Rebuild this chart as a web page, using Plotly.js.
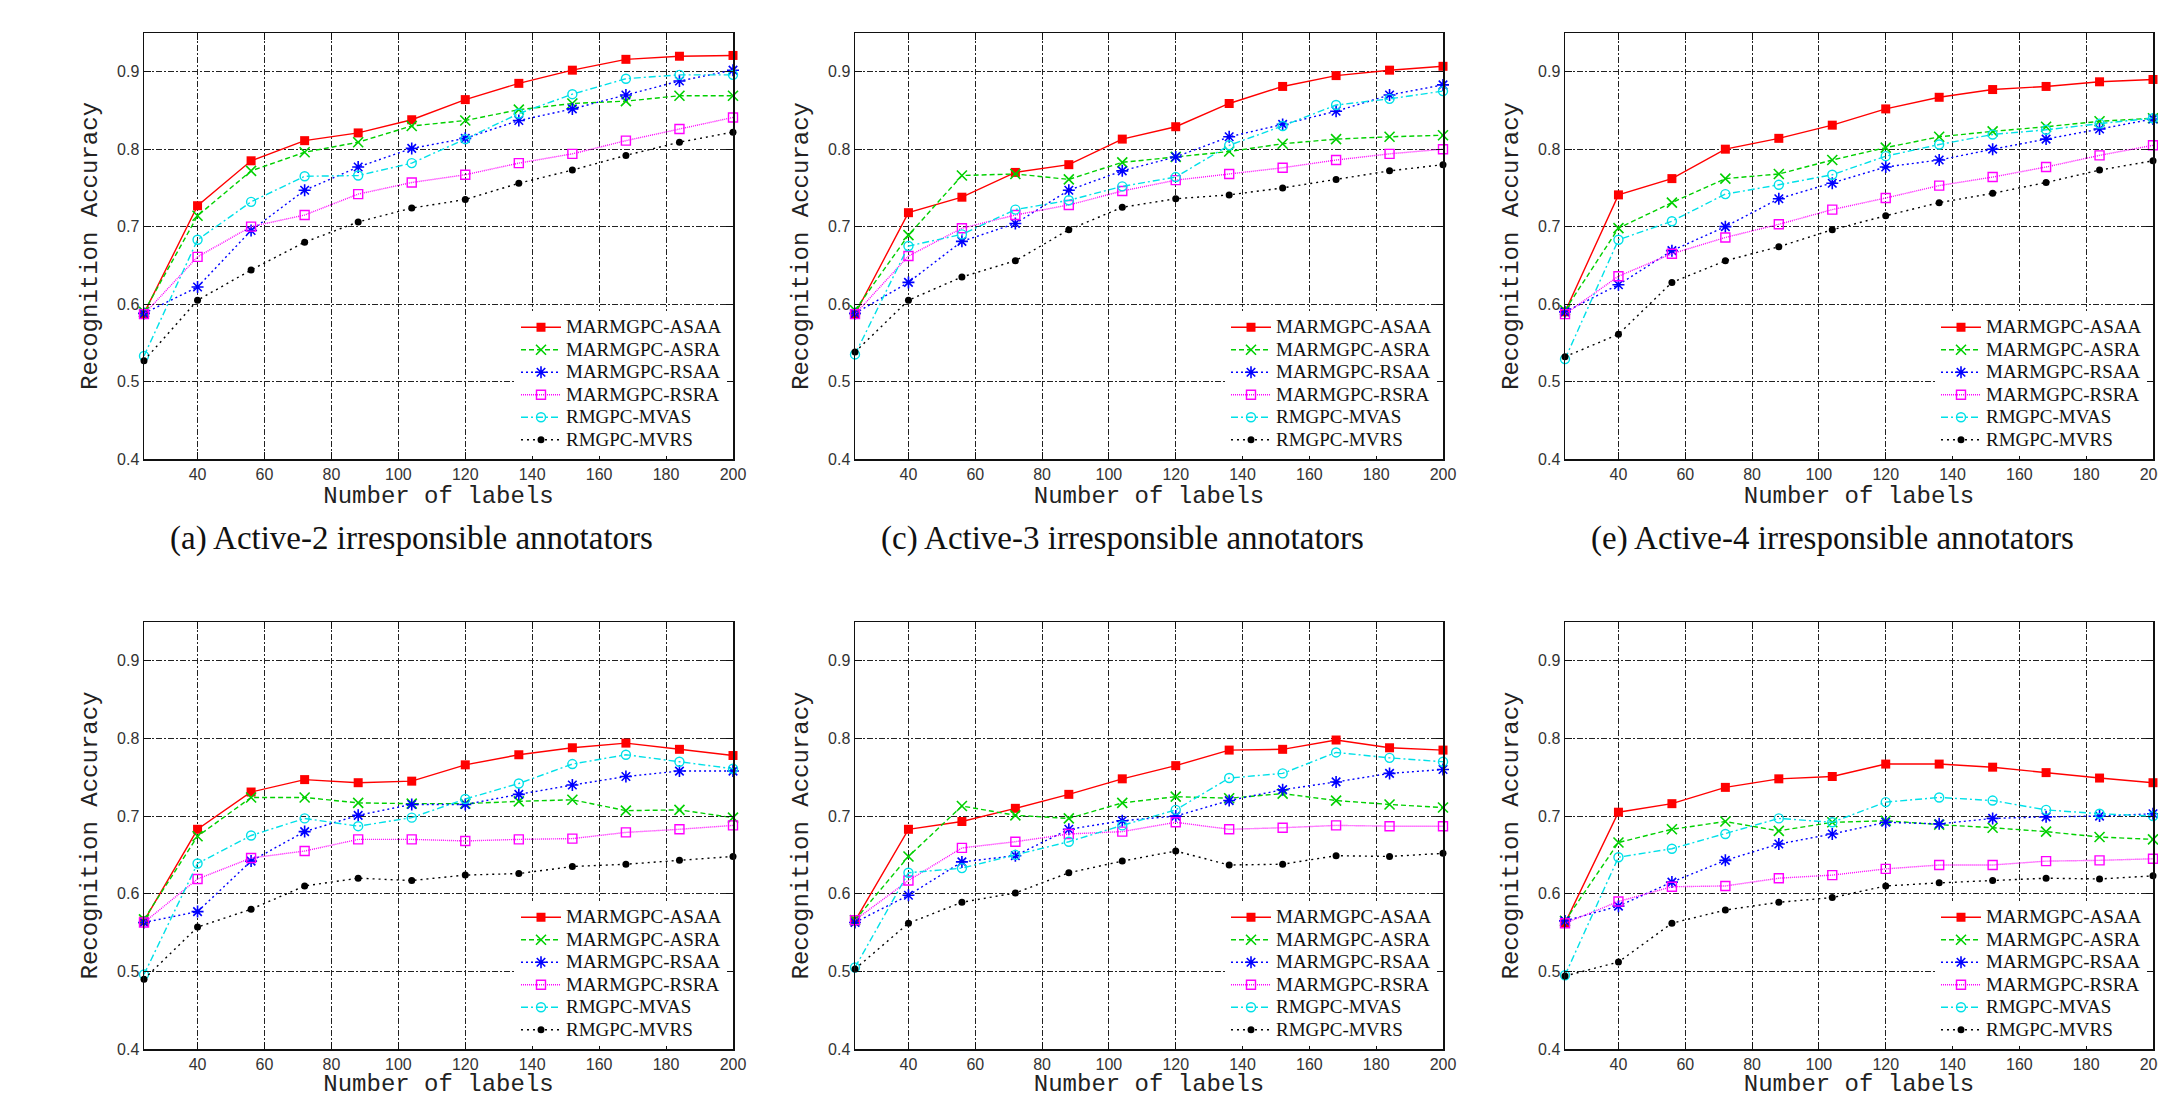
<!DOCTYPE html>
<html>
<head>
<meta charset="utf-8">
<script src="https://cdn.plot.ly/plotly-3.0.1.min.js"></script>
<style>html,body{margin:0;padding:0;background:#fff;}#chart{width:2158px;height:1098px;}</style>
</head>
<body>
<div id="chart"></div>
<script>
// ---------- data ----------
const labels = [24, 40, 56, 72, 88, 104, 120, 136, 152, 168, 184, 200];
const seriesNames = ["MARMGPC-ASAA", "MARMGPC-ASRA", "MARMGPC-RSAA", "MARMGPC-RSRA", "RMGPC-MVAS", "RMGPC-MVRS"];
const xTickVals = [40, 60, 80, 100, 120, 140, 160, 180, 200];
const yTickVals = [0.4, 0.5, 0.6, 0.7, 0.8, 0.9];
const yTickText = ["0.4", "0.5", "0.6", "0.7", "0.8", "0.9"];
const captions = ["(a) Active-2 irresponsible annotators", "(c) Active-3 irresponsible annotators", "(e) Active-4 irresponsible annotators"];

// (a) Active-2
const a_ASAA = [0.588, 0.727, 0.785, 0.811, 0.821, 0.838, 0.864, 0.885, 0.902, 0.916, 0.920, 0.921];
const a_ASRA = [0.590, 0.714, 0.772, 0.796, 0.809, 0.830, 0.837, 0.851, 0.859, 0.862, 0.869, 0.869];
const a_RSAA = [0.588, 0.622, 0.695, 0.747, 0.777, 0.801, 0.814, 0.837, 0.852, 0.870, 0.888, 0.902];
const a_RSRA = [0.587, 0.661, 0.700, 0.715, 0.742, 0.757, 0.767, 0.782, 0.794, 0.811, 0.826, 0.841];
const a_MVAS = [0.533, 0.683, 0.732, 0.765, 0.766, 0.782, 0.813, 0.846, 0.871, 0.891, 0.896, 0.896];
const a_MVRS = [0.527, 0.605, 0.644, 0.680, 0.706, 0.724, 0.735, 0.756, 0.773, 0.792, 0.809, 0.822];
// (c) Active-3
const c_ASAA = [0.587, 0.718, 0.738, 0.770, 0.780, 0.813, 0.829, 0.859, 0.881, 0.895, 0.902, 0.907];
const c_ASRA = [0.592, 0.689, 0.766, 0.768, 0.761, 0.783, 0.790, 0.797, 0.807, 0.813, 0.816, 0.818];
const c_RSAA = [0.588, 0.628, 0.681, 0.704, 0.747, 0.772, 0.790, 0.816, 0.832, 0.849, 0.870, 0.883];
const c_RSRA = [0.587, 0.662, 0.698, 0.715, 0.728, 0.746, 0.760, 0.768, 0.776, 0.786, 0.794, 0.800];
const c_MVAS = [0.535, 0.675, 0.690, 0.722, 0.734, 0.752, 0.764, 0.805, 0.830, 0.857, 0.865, 0.875];
const c_MVRS = [0.538, 0.605, 0.635, 0.656, 0.696, 0.725, 0.736, 0.741, 0.750, 0.761, 0.772, 0.780];
// (e) Active-4
const e_ASAA = [0.590, 0.741, 0.762, 0.800, 0.814, 0.831, 0.852, 0.867, 0.877, 0.881, 0.887, 0.890];
const e_ASRA = [0.592, 0.698, 0.731, 0.762, 0.768, 0.786, 0.802, 0.816, 0.823, 0.829, 0.836, 0.840];
const e_RSAA = [0.590, 0.625, 0.669, 0.700, 0.736, 0.756, 0.777, 0.786, 0.800, 0.813, 0.826, 0.839];
const e_RSRA = [0.587, 0.636, 0.665, 0.686, 0.703, 0.722, 0.737, 0.753, 0.764, 0.777, 0.792, 0.805];
const e_MVAS = [0.529, 0.683, 0.707, 0.742, 0.754, 0.767, 0.791, 0.806, 0.819, 0.825, 0.833, 0.840];
const e_MVRS = [0.532, 0.561, 0.628, 0.656, 0.674, 0.696, 0.714, 0.731, 0.743, 0.757, 0.773, 0.785];
// (b) bottom-left
const b_ASAA = [0.565, 0.683, 0.731, 0.747, 0.743, 0.745, 0.766, 0.779, 0.788, 0.794, 0.786, 0.778];
const b_ASRA = [0.567, 0.674, 0.724, 0.724, 0.717, 0.716, 0.716, 0.719, 0.721, 0.707, 0.708, 0.698];
const b_RSAA = [0.563, 0.577, 0.642, 0.680, 0.701, 0.715, 0.715, 0.728, 0.740, 0.751, 0.758, 0.758];
const b_RSRA = [0.563, 0.619, 0.646, 0.655, 0.670, 0.670, 0.668, 0.670, 0.671, 0.679, 0.683, 0.688];
const b_MVAS = [0.496, 0.639, 0.675, 0.697, 0.687, 0.698, 0.722, 0.742, 0.767, 0.779, 0.770, 0.761];
const b_MVRS = [0.490, 0.557, 0.580, 0.610, 0.620, 0.617, 0.624, 0.626, 0.635, 0.638, 0.643, 0.648];
// (d) bottom-middle
const d_ASAA = [0.565, 0.683, 0.693, 0.710, 0.728, 0.748, 0.765, 0.785, 0.786, 0.798, 0.788, 0.785];
const d_ASRA = [0.566, 0.648, 0.713, 0.701, 0.697, 0.717, 0.725, 0.723, 0.729, 0.720, 0.715, 0.711];
const d_RSAA = [0.563, 0.598, 0.641, 0.649, 0.683, 0.694, 0.700, 0.720, 0.734, 0.744, 0.755, 0.760];
const d_RSRA = [0.566, 0.617, 0.659, 0.667, 0.677, 0.680, 0.692, 0.683, 0.685, 0.688, 0.687, 0.687];
const d_MVAS = [0.505, 0.627, 0.633, 0.650, 0.667, 0.688, 0.708, 0.749, 0.755, 0.782, 0.775, 0.770];
const d_MVRS = [0.503, 0.562, 0.589, 0.601, 0.627, 0.642, 0.655, 0.637, 0.638, 0.649, 0.648, 0.652];
// (f) bottom-right
const f_ASAA = [0.562, 0.705, 0.716, 0.737, 0.748, 0.751, 0.767, 0.767, 0.763, 0.756, 0.749, 0.743];
const f_ASRA = [0.565, 0.666, 0.683, 0.693, 0.681, 0.692, 0.694, 0.689, 0.685, 0.680, 0.673, 0.670];
const f_RSAA = [0.565, 0.584, 0.615, 0.643, 0.664, 0.677, 0.692, 0.690, 0.697, 0.699, 0.700, 0.703];
const f_RSRA = [0.562, 0.590, 0.609, 0.610, 0.620, 0.624, 0.632, 0.637, 0.637, 0.642, 0.643, 0.645];
const f_MVAS = [0.495, 0.647, 0.658, 0.677, 0.697, 0.692, 0.718, 0.724, 0.720, 0.708, 0.703, 0.700];
const f_MVRS = [0.494, 0.512, 0.562, 0.579, 0.589, 0.595, 0.610, 0.614, 0.617, 0.620, 0.619, 0.623];

const panels = [
  [a_ASAA, a_ASRA, a_RSAA, a_RSRA, a_MVAS, a_MVRS],
  [c_ASAA, c_ASRA, c_RSAA, c_RSRA, c_MVAS, c_MVRS],
  [e_ASAA, e_ASRA, e_RSAA, e_RSRA, e_MVAS, e_MVRS],
  [b_ASAA, b_ASRA, b_RSAA, b_RSRA, b_MVAS, b_MVRS],
  [d_ASAA, d_ASRA, d_RSAA, d_RSRA, d_MVAS, d_MVRS],
  [f_ASAA, f_ASRA, f_RSAA, f_RSRA, f_MVAS, f_MVRS]
];

// ---------- styles ----------
const styles = [
  {color: "#ff0000", dash: "solid", symbol: "square", size: 9, mline: 0},
  {color: "#00d000", dash: "5px,3px", symbol: "x-thin-open", size: 10, mline: 1.6},
  {color: "#0000ff", dash: "2px,3px", symbol: "asterisk-open", size: 10, mline: 1.6},
  {color: "#ff00ff", dash: "1px,1px", symbol: "square-open", size: 9, mline: 1.4},
  {color: "#00e0e8", dash: "7px,3px,2px,3px", symbol: "circle-open", size: 9, mline: 1.4},
  {color: "#000000", dash: "2px,4px", symbol: "circle", size: 7, mline: 0}
];

const W = 2158, H = 1098;
const xPix = [[144, 733], [855, 1443], [1565, 2153]];
const yPixTop = [33, 459];
const yPixBot = [622, 1049];

const traces = [];
const layout = {
  width: W, height: H,
  margin: {l: 0, r: 0, t: 0, b: 0},
  paper_bgcolor: "#ffffff",
  plot_bgcolor: "#ffffff",
  showlegend: true,
  annotations: []
};

const gridCommon = {
  showgrid: true, gridcolor: "#222222", gridwidth: 1, griddash: "6px,2px,2px,2px",
  showline: true, linecolor: "#111111", linewidth: 1.5, mirror: "ticks",
  ticks: "inside", ticklen: 7, tickcolor: "#111111", tickwidth: 1,
  zeroline: false,
  tickfont: {family: "Liberation Sans Narrow, Liberation Sans, Arial, sans-serif", size: 16, color: "#333333"}
};

for (let p = 0; p < 6; p++) {
  const col = p % 3, row = Math.floor(p / 3);
  const n = p + 1;
  const xa = "xaxis" + (n === 1 ? "" : n), ya = "yaxis" + (n === 1 ? "" : n);
  const xr = "x" + (n === 1 ? "" : n), yr = "y" + (n === 1 ? "" : n);
  const lg = "legend" + (n === 1 ? "" : n);
  const yp = row === 0 ? yPixTop : yPixBot;
  layout[xa] = Object.assign({}, gridCommon, {
    domain: [xPix[col][0] / W, xPix[col][1] / W],
    range: [24, 200], tickvals: xTickVals, anchor: yr,
    ticklabeloverflow: "allow",
    title: {text: "Number of labels", font: {family: "Liberation Mono, Courier New, monospace", size: 24, color: "#222"}, standoff: 4}
  });
  layout[ya] = Object.assign({}, gridCommon, {
    domain: [1 - yp[1] / H, 1 - yp[0] / H],
    range: [0.4, 0.95], tickvals: yTickVals, ticktext: yTickText, anchor: xr,
    title: {text: "Recognition Accuracy", font: {family: "Liberation Mono, Courier New, monospace", size: 24, color: "#222"}, standoff: 12}
  });
  layout[lg] = {
    x: (xPix[col][1] - 6) / W, xanchor: "right",
    y: 1 - (yp[1] - 3) / H, yanchor: "bottom",
    bgcolor: "#ffffff", borderwidth: 0,
    font: {family: "Liberation Serif, Times New Roman, serif", size: 15, color: "#111"},
    itemwidth: 40, tracegroupgap: 0
  };
  const data = panels[p];
  for (let s = 0; s < 6; s++) {
    const st = styles[s];
    traces.push({
      type: "scatter", mode: "lines+markers",
      x: labels, y: data[s],
      name: "<span style='font-size:19px'>" + seriesNames[s] + "</span>",
      xaxis: xr, yaxis: yr, legend: lg,
      line: {color: st.color, width: 1.4, dash: st.dash},
      marker: {symbol: st.symbol, size: st.size, color: st.color, line: {color: st.color, width: st.mline}},
      cliponaxis: false
    });
  }
}

for (let c = 0; c < 3; c++) {
  const centerX = (xPix[c][0] + xPix[c][1]) / 2 - 27;
  layout.annotations.push({
    text: captions[c], xref: "paper", yref: "paper",
    x: centerX / W, y: 1 - 538 / H, xanchor: "center", yanchor: "middle",
    showarrow: false,
    font: {family: "Liberation Serif, Times New Roman, serif", size: 33, color: "#111"}
  });
}

Plotly.newPlot("chart", traces, layout, {displayModeBar: false, staticPlot: true});
</script>
</body>
</html>
